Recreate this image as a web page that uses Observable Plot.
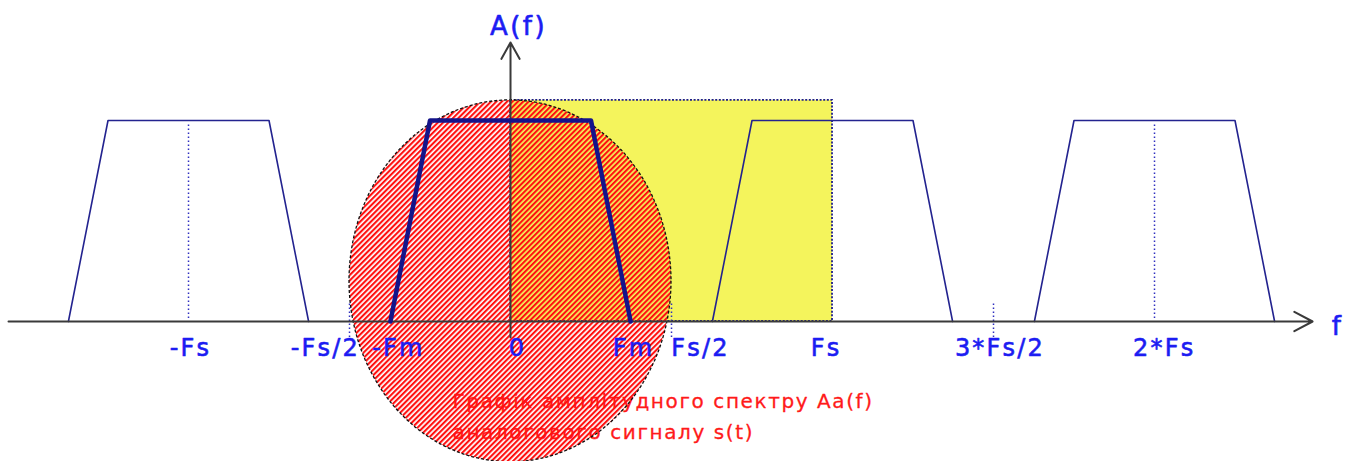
<!DOCTYPE html>
<html><head><meta charset="utf-8">
<script src="https://cdn.jsdelivr.net/npm/d3@7"></script>
<script src="https://cdn.jsdelivr.net/npm/@observablehq/plot@0.6"></script>
<style>
html,body{margin:0;padding:0;background:#fff;}
#chart svg{display:block;}
#chart g[fill="#1c1cf2"] text{letter-spacing:2.2px;}
#chart g[fill="#1c1cf3"] text{letter-spacing:2.5px;}
#chart g[fill="#ff1a1a"] text{letter-spacing:1.6px;}
</style></head><body><div id="chart"></div>
<script>
// ---- data (frequency in units of Fs, amplitude normalised) ----
const replicaCenters = [-1, 0, 1, 2];            // spectrum replicas at k*Fs
const shapeF = [-0.373, -0.25, 0.25, 0.373];       // trapezoid corners relative to replica centre
const shapeA = [0, 1, 1, 0];
const tickLabels = ["-Fs", "-Fs/2", "-Fm", "0", "Fm", "Fs/2", "Fs", "3*Fs/2", "2*Fs"];
const tickLabelF = [-0.994, -0.575, -0.348, 0.022, 0.382, 0.59, 0.98, 1.52, 2.03];
const longGuideF = [-1, 2];
const shortGuideF = [-0.5, 0.5, 1.5];
const bandF = [0, 1];
const bandA = [0, 1.1];
const ellipseCenter = [0, 0.2];
const ellipseRadii = [0.5, 0.9];
const captionLines = ["Графік амплітудного спектру Aa(f)", "аналогового сигналу s(t)"];
const captionPos = [-0.18, -0.46];
const fAxis = [-1.559, 2.491];
const aAxis = [-0.08, 1.388];
const axisLabels = ["A(f)", "f"];

// ---- tables ----
const replicas = [];
for (const c of replicaCenters) shapeF.forEach((df, i) => replicas.push({replica: c, f: c + df, a: shapeA[i]}));

const FONT = "DejaVu Sans";
const BLUE = "#1c1cf2";
const BLUE2 = "#1c1cf3";

function ellipseMark(index, scales) {
  const sx = scales.x, sy = scales.y;
  const ns = "http://www.w3.org/2000/svg";
  const g = document.createElementNS(ns, "g");
  const defs = document.createElementNS(ns, "defs");
  defs.innerHTML = `<pattern id="hatch" patternUnits="userSpaceOnUse" width="3.8" height="3.8" patternTransform="rotate(45)"><rect x="0" y="0" width="2.1" height="3.8" fill="#ff1010"/></pattern>`;
  g.appendChild(defs);
  const e = document.createElementNS(ns, "ellipse");
  const cx = sx(ellipseCenter[0]), cy = sy(ellipseCenter[1]);
  e.setAttribute("cx", cx);
  e.setAttribute("cy", cy);
  e.setAttribute("rx", Math.abs(sx(ellipseCenter[0] + ellipseRadii[0]) - cx));
  e.setAttribute("ry", Math.abs(sy(ellipseCenter[1] + ellipseRadii[1]) - cy));
  e.setAttribute("fill", "url(#hatch)");
  e.setAttribute("stroke", "#111");
  e.setAttribute("stroke-width", "1.3");
  e.setAttribute("stroke-dasharray", "3,2");
  g.appendChild(e);
  return g;
}

const chart = Plot.plot({
  width: 1352,
  height: 461,
  margin: 0,
  x: {domain: [-1.5839, 2.6149], axis: null},
  y: {domain: [-0.6965, 1.597], axis: null},
  style: {fontFamily: FONT, background: "#fff"},
  marks: [
    Plot.rect([0], {x1: () => bandF[0], x2: () => bandF[1], y1: () => bandA[0], y2: () => bandA[1],
      fill: "#f4f45c", stroke: "#1e1e88", strokeWidth: 1.8, strokeDasharray: "2,1.6"}),
    Plot.text([captionLines.join("\n")], {x: () => captionPos[0], y: () => captionPos[1],
      text: d => d, textAnchor: "start", lineAnchor: "middle", lineHeight: 1.55,
      fill: "#ff1a1a", stroke: "#ff1a1a", strokeWidth: 0.3, fontSize: 20, fontFamily: FONT}),
    Plot.line(replicas.filter(d => d.replica !== 0), {x: "f", y: "a", z: "replica", stroke: "#23238f", strokeWidth: 1.6}),
    Plot.ruleX(longGuideF, {y1: 0.015, y2: 0.985, stroke: "#3030c0", strokeWidth: 1.5, strokeDasharray: "1.5,2.5"}),
    Plot.ruleX(shortGuideF, {y1: -0.08, y2: 0.1, stroke: "#3030c0", strokeWidth: 1.5, strokeDasharray: "1.5,2.5"}),
    ellipseMark,
    Plot.arrow([0], {x1: () => fAxis[0], x2: () => fAxis[1], y1: 0, y2: 0,
      stroke: "#3a3a3a", strokeWidth: 2, headLength: 15.5, headAngle: 56}),
    Plot.arrow([0], {x1: 0, x2: 0, y1: () => aAxis[0], y2: () => aAxis[1],
      stroke: "#3a3a3a", strokeWidth: 2, headLength: 14, headAngle: 58}),
    Plot.line(replicas.filter(d => d.replica === 0), {x: "f", y: "a", stroke: "#14148a", strokeWidth: 4.5, strokeLinejoin: "round"}),
    Plot.text(tickLabels, {x: (d, i) => tickLabelF[i], y: () => 0, dy: 27, text: d => d,
      fill: BLUE, stroke: BLUE, strokeWidth: 0.6, fontSize: 24, fontFamily: FONT}),
    Plot.text([axisLabels[0]], {x: () => 0, y: () => aAxis[1], dx: 8, dy: -16, text: d => d,
      fill: BLUE2, stroke: BLUE2, strokeWidth: 0.6, fontSize: 26, fontFamily: FONT}),
    Plot.text([axisLabels[1]], {x: () => fAxis[1], y: () => 0, dx: 25, dy: 5, text: d => d,
      fill: BLUE2, stroke: BLUE2, strokeWidth: 0.6, fontSize: 26, fontFamily: FONT})
  ]
});
document.getElementById("chart").appendChild(chart);
</script></body></html>
